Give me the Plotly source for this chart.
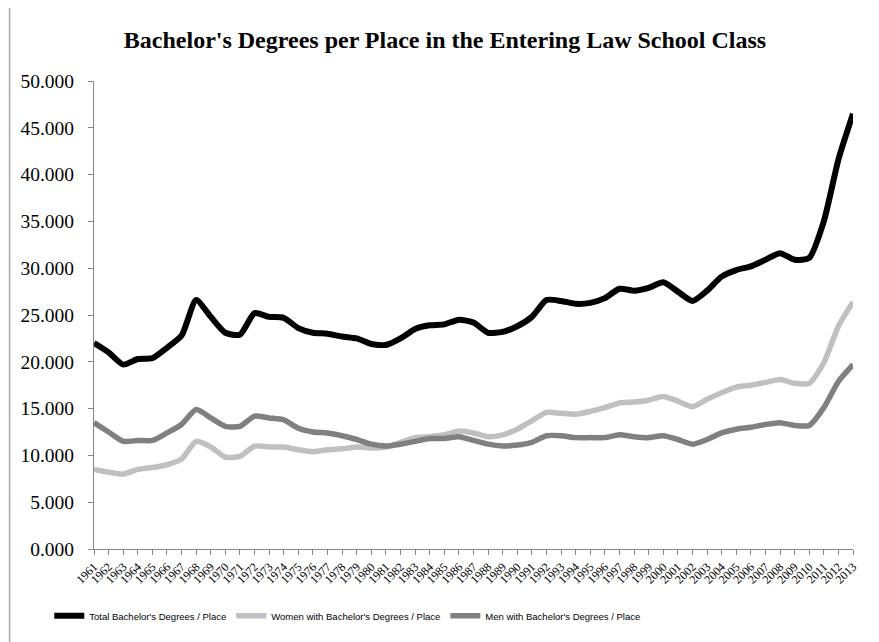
import plotly.graph_objects as go

years = list(range(1961, 2014))

total = [22.0, 21.0, 19.7, 20.3, 20.4, 21.5, 22.8, 26.6, 24.8, 23.1, 22.9, 25.2, 24.8, 24.7,
         23.6, 23.1, 23.0, 22.7, 22.5, 21.9, 21.8, 22.5, 23.5, 23.9, 24.0, 24.5, 24.2,
         23.1, 23.2, 23.8, 24.8, 26.6, 26.5, 26.2, 26.3, 26.8, 27.8, 27.6, 27.9, 28.5,
         27.5, 26.5, 27.6, 29.1, 29.8, 30.2, 30.9, 31.6, 30.9, 31.1, 35.0, 41.6, 46.5]

women = [8.5, 8.2, 8.0, 8.5, 8.7, 9.0, 9.6, 11.5, 10.9, 9.8, 9.9, 11.0, 10.9, 10.9,
         10.6, 10.4, 10.6, 10.7, 10.9, 10.8, 10.9, 11.4, 11.9, 12.0, 12.2, 12.6, 12.4,
         12.0, 12.2, 12.8, 13.7, 14.6, 14.5, 14.4, 14.7, 15.1, 15.6, 15.7, 15.9, 16.3,
         15.8, 15.2, 16.0, 16.7, 17.3, 17.5, 17.8, 18.1, 17.7, 17.7, 19.9, 23.8, 26.4]

men = [13.5, 12.5, 11.5, 11.6, 11.6, 12.4, 13.3, 14.9, 14.0, 13.1, 13.1, 14.2, 14.0, 13.8,
       12.9, 12.5, 12.4, 12.1, 11.7, 11.2, 11.0, 11.2, 11.5, 11.8, 11.8, 12.0, 11.6,
       11.2, 11.0, 11.1, 11.4, 12.1, 12.1, 11.9, 11.9, 11.9, 12.2, 12.0, 11.9, 12.1,
       11.7, 11.2, 11.7, 12.4, 12.8, 13.0, 13.3, 13.5, 13.2, 13.2, 15.1, 17.9, 19.7]

series_names = ["Total Bachelor's Degrees / Place",
                "Women with Bachelor's Degrees / Place",
                "Men with Bachelor's Degrees / Place"]

y_ticks = [0, 5, 10, 15, 20, 25, 30, 35, 40, 45, 50]

title_text = "Bachelor's Degrees per Place in the Entering Law School Class"

# the page body adds an 8px offset; work in screen coordinates and convert
OFF = 8
SW, SH = 879, 642
W, H = SW - OFF, SH - OFF
X_LEFT, X_RIGHT, Y_TOP, Y_BOT = 89, 853, 81, 550  # screen px of plot area
ML = X_LEFT - OFF
MR = W - (X_RIGHT - OFF)
MT = Y_TOP - OFF
MB = H - (Y_BOT - OFF)
PW = X_RIGHT - X_LEFT
PH = Y_BOT - Y_TOP


def sx(px):
    return (px - X_LEFT) / PW


def sy(py):
    return (Y_BOT - py) / PH


serif = "Liberation Serif, DejaVu Serif, serif"
sans = "Liberation Sans Narrow, Arial Narrow, Liberation Sans, sans-serif"

fig = go.Figure()
fig.add_trace(go.Scatter(x=years, y=total, name=series_names[0], mode="lines",
                         line=dict(color="#000000", width=6, shape="spline", smoothing=0.6)))
fig.add_trace(go.Scatter(x=years, y=women, name=series_names[1], mode="lines",
                         line=dict(color="#c0c0c0", width=5.5, shape="spline", smoothing=0.6)))
fig.add_trace(go.Scatter(x=years, y=men, name=series_names[2], mode="lines",
                         line=dict(color="#808080", width=5.5, shape="spline", smoothing=0.6)))

fig.update_layout(
    width=W, height=H,
    margin=dict(l=ML, r=MR, t=MT, b=MB),
    paper_bgcolor="white", plot_bgcolor="white",
    title=dict(text="<b>" + title_text + "</b>", x=(445 - OFF) / W, xref="container",
               xanchor="center", y=1 - (40 - OFF) / H, yref="container", yanchor="middle",
               font=dict(family=serif, size=24, color="#000000")),
    showlegend=True,
    legend=dict(orientation="h", x=sx(44), xanchor="left",
                y=sy(617), yanchor="middle",
                font=dict(family=sans, size=9.5, color="#000000"),
                bgcolor="rgba(0,0,0,0)", itemwidth=30, tracegroupgap=0),
    xaxis=dict(range=[1961, 2013], tickmode="array", tickvals=years,
               ticktext=[str(y) for y in years], tickangle=-45,
               showgrid=False, zeroline=False, showline=True, linecolor="#868686", linewidth=1,
               ticks="outside", ticklen=5, tickcolor="#868686",
               tickfont=dict(family=serif, size=12, color="#000000")),
    yaxis=dict(range=[0, 50], tickmode="array", tickvals=y_ticks,
               tickformat=".3f", showgrid=False, zeroline=False, showline=True,
               linecolor="#868686", linewidth=1, ticks="outside", ticklen=5, tickcolor="#868686",
               ticklabelstandoff=10,
               tickfont=dict(family=serif, size=19.5, color="#000000")),
    shapes=[dict(type="rect", xref="paper", yref="paper",
                 x0=sx(4), x1=sx(900), y0=sy(700), y1=sy(7),
                 line=dict(color="#a6a6a6", width=1.5), fillcolor="rgba(0,0,0,0)", layer="below")],
)

fig.write_html("out.html")
